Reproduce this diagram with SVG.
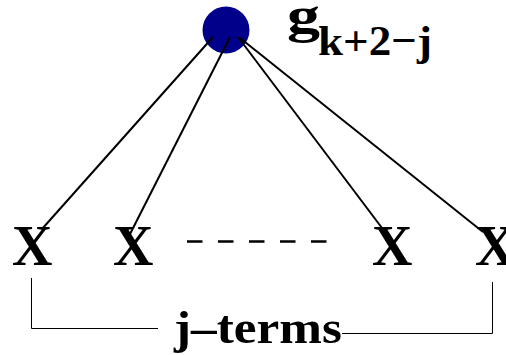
<svg xmlns="http://www.w3.org/2000/svg" width="506" height="355" viewBox="0 0 506 355">
<style>
.t{font-family:"Liberation Serif","Times New Roman",serif;font-weight:bold;fill:#000}
.c{stroke:#000;stroke-width:2;fill:none}
.b{stroke:#000;stroke-width:1;fill:none}
</style>
<rect width="506" height="355" fill="#fff"/>
<g id="g-node">
<circle cx="226" cy="30" r="23.5" fill="#00008b"/>
<text class="t" x="287" y="32" font-size="51" textLength="33" lengthAdjust="spacingAndGlyphs">g</text>
<text class="t" x="318" y="55" font-size="43" textLength="114" lengthAdjust="spacingAndGlyphs">k+2−j</text>
</g>
<g id="x1"><text class="t" x="12" y="265" font-size="56">X</text></g>
<g id="x2"><text class="t" x="113" y="265" font-size="56">X</text></g>
<g id="x3"><text class="t" x="372" y="265" font-size="56">X</text></g>
<g id="x4"><text class="t" x="475" y="265" font-size="56">X</text></g>
<g id="label"><text class="t" x="174" y="343" font-size="47" textLength="168" lengthAdjust="spacingAndGlyphs">j–terms</text></g>
<g id="connectors">
<line class="c" x1="213" y1="37" x2="42" y2="229"/>
<line class="c" x1="230" y1="37" x2="128" y2="238"/>
<line class="c" x1="238" y1="37" x2="382" y2="228"/>
<line class="c" x1="240" y1="38" x2="483" y2="232"/>
<line x1="187" y1="241.5" x2="327" y2="241.5" stroke="#000" stroke-width="2.5" stroke-dasharray="15.5 15.5"/>
<polyline class="b" points="31.5,278 31.5,328.5 158,328.5"/>
<polyline class="b" points="342,333.5 492.5,333.5 492.5,282"/>
</g>
</svg>
